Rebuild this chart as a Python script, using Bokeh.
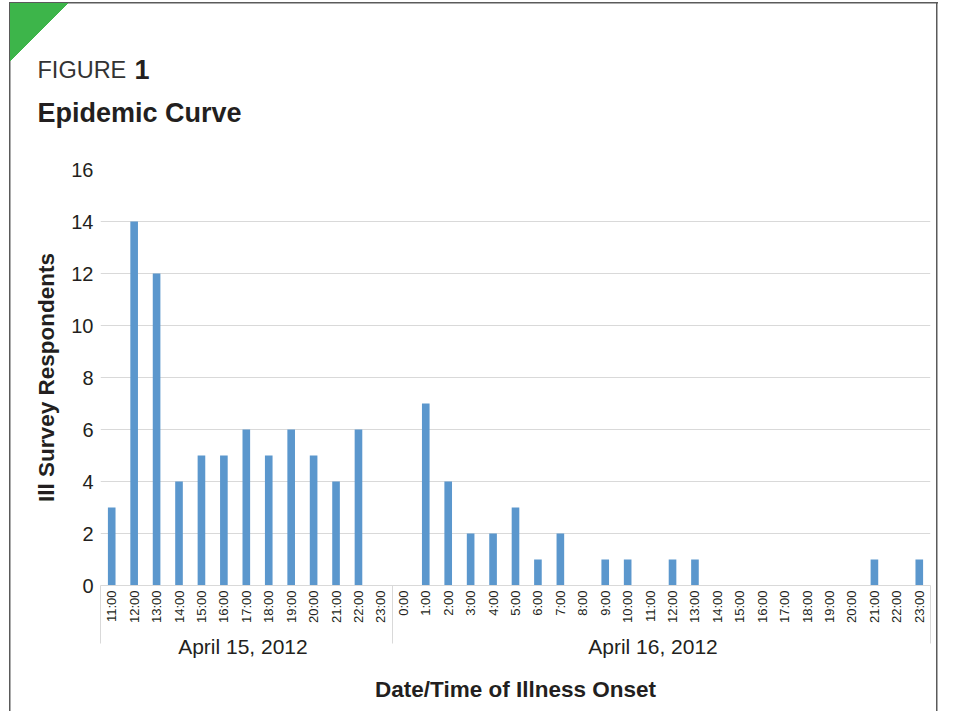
import math
from bokeh.plotting import figure
from bokeh.models import (Range1d, FixedTicker, LinearAxis, Title,
                          ColumnDataSource)
from bokeh.embed import file_html
from bokeh.resources import INLINE

# ---------------- data ----------------
figure_tag = "FIGURE"
figure_num = "1"
chart_title = "Epidemic Curve"
x_title = "Date/Time of Illness Onset"
y_title = "Ill Survey Respondents"

day1_label = "April 15, 2012"
day2_label = "April 16, 2012"

day1_hours = ["11:00", "12:00", "13:00", "14:00", "15:00", "16:00", "17:00",
              "18:00", "19:00", "20:00", "21:00", "22:00", "23:00"]
day1_counts = [3, 14, 12, 4, 5, 5, 6, 5, 6, 5, 4, 6, 0]

day2_hours = ["0:00", "1:00", "2:00", "3:00", "4:00", "5:00", "6:00", "7:00",
              "8:00", "9:00", "10:00", "11:00", "12:00", "13:00", "14:00",
              "15:00", "16:00", "17:00", "18:00", "19:00", "20:00", "21:00",
              "22:00", "23:00"]
day2_counts = [0, 7, 4, 2, 2, 3, 1, 2, 0, 1, 1, 0, 1, 1, 0, 0, 0, 0, 0, 0,
               0, 1, 0, 1]

y_ticks = [0, 2, 4, 6, 8, 10, 12, 14, 16]

# ---------------- styling ----------------
FONT = "Liberation Sans"
TXT = "#231f20"
GRID = "#d9d9d9"
BAR = "#5b97cd"
GREEN = "#3db54a"
EDGE = "#5a5a5a"

W, H = 938, 711
FL, FR, FT, FB = 100, 930, 169, 585   # frame edges in pixels

hours = day1_hours + day2_hours
counts = day1_counts + day2_counts
n1, n2 = len(day1_hours), len(day2_hours)
n = len(hours)
idx = list(range(n))
ymax = y_ticks[-1]

src = ColumnDataSource(dict(x=idx, top=counts))

p = figure(width=W, height=H, output_backend="svg", toolbar_location=None,
           title=None,
           x_range=Range1d(-0.5, n - 0.5), y_range=Range1d(0, ymax),
           min_border_left=FL, min_border_right=W - FR, min_border_top=FT,
           min_border_bottom=H - FB)
p.background_fill_color = "white"
p.border_fill_color = None
p.outline_line_color = None

# page decoration (green corner + frame) drawn as CSS backgrounds
bar_img = f"linear-gradient({EDGE}, {EDGE})"
p.styles = {
    "background": (
        f"linear-gradient(to bottom right, {GREEN} 50%, transparent 50%) "
        "10px 3px / 58px 59px no-repeat, "
        f"{bar_img} 9px 2px / 1.5px 100% no-repeat, "
        f"{bar_img} 9px 2px / 930px 1.5px no-repeat, "
        f"{bar_img} 936px 2px / 1.5px 100% no-repeat, "
        "white"
    )
}

p.vbar(x="x", top="top", width=0.34, source=src, fill_color=BAR,
       line_color=None)

# grid
p.xgrid.grid_line_color = None
p.ygrid.grid_line_color = GRID
p.ygrid.ticker = FixedTicker(ticks=y_ticks)

# y axis
ya = p.left[0]
ya.ticker = FixedTicker(ticks=y_ticks)
ya.axis_line_color = None
ya.major_tick_line_color = None
ya.minor_tick_line_color = None
ya.major_tick_in = 0
ya.major_tick_out = 0
ya.major_label_standoff = 7
ya.major_label_text_font = FONT
ya.major_label_text_font_size = "20px"
ya.major_label_text_color = TXT
ya.axis_label = y_title
ya.axis_label_text_font = FONT
ya.axis_label_text_font_style = "bold"
ya.axis_label_text_font_size = "22.5px"
ya.axis_label_text_color = TXT
ya.axis_label_standoff = 9

# x axis 1 : hour labels, with day separators as long minor ticks
SEP = 58
xa = p.below[0]
xa.ticker = FixedTicker(ticks=idx, minor_ticks=[-0.5, n1 - 0.5, n - 0.5])
xa.major_label_overrides = {i: h for i, h in enumerate(hours)}
xa.major_label_orientation = math.pi / 2
xa.major_label_text_font = FONT
xa.major_label_text_font_size = "13px"
xa.major_label_text_color = TXT
xa.major_label_standoff = 5 - SEP
xa.major_tick_in = 0
xa.major_tick_out = 0
xa.major_tick_line_color = None
xa.minor_tick_in = 0
xa.minor_tick_out = SEP
xa.minor_tick_line_color = GRID
xa.minor_tick_line_width = 1
xa.axis_line_color = GRID
xa.axis_line_width = 1

# x axis 2 : day labels and title
c1 = (n1 - 1) / 2 - 0.15
c2 = n1 + (n2 - 1) / 2 - 0.37
xb = LinearAxis(ticker=FixedTicker(ticks=[c1, c2]),
                major_label_overrides={c1: day1_label, c2: day2_label})
xb.axis_line_color = None
xb.major_tick_line_color = None
xb.minor_tick_line_color = None
xb.major_tick_in = 0
xb.major_tick_out = 0
xb.major_label_standoff = 8
xb.major_label_text_font = FONT
xb.major_label_text_font_size = "21px"
xb.major_label_text_color = TXT
xb.axis_label = x_title
xb.axis_label_text_font = FONT
xb.axis_label_text_font_style = "bold"
xb.axis_label_text_font_size = "22.5px"
xb.axis_label_text_color = TXT
xb.axis_label_standoff = 16
p.add_layout(xb, "below")

# spacer between plot and headings: an above axis with one white tick
spacer = LinearAxis(ticker=FixedTicker(ticks=[n - 1]),
                    major_label_overrides={n - 1: ""},
                    axis_line_color=None,
                    major_tick_line_color="white", minor_tick_line_color=None,
                    major_tick_in=0, major_tick_out=37, minor_tick_in=0,
                    minor_tick_out=0, major_label_standoff=0,
                    major_label_text_font_size="0px")
p.add_layout(spacer, "above")

# headings (first added = closest to the plot)
p.add_layout(Title(text=chart_title, align="left", offset=37 - FL,
                   text_font=FONT, text_font_size="27px",
                   text_font_style="bold", text_color=TXT, standoff=10),
             "above")
p.add_layout(Title(text=figure_tag, align="left", offset=37 - FL,
                   text_font=FONT, text_font_size="23.5px",
                   text_font_style="normal", text_color="#333333",
                   standoff=16),
             "above")
p.add_layout(Title(text=figure_num, align="left", offset=134 - FL,
                   text_font=FONT, text_font_size="27px",
                   text_font_style="bold", text_color=TXT, standoff=-64),
             "above")

open("out.html", "w").write(file_html(p, INLINE))
